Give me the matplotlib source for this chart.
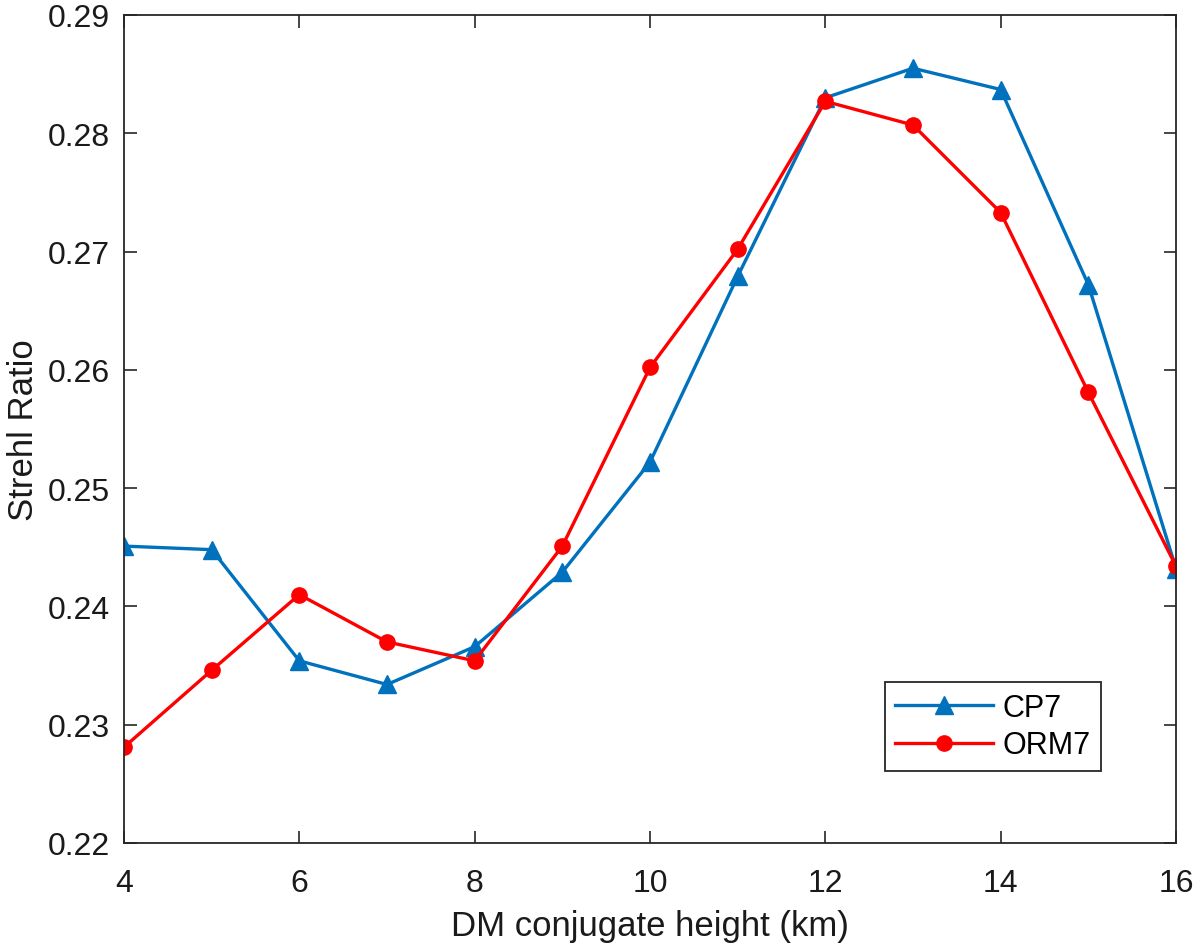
import matplotlib
matplotlib.use('Agg')
import matplotlib.pyplot as plt

plt.rcParams['font.family'] = ['Liberation Sans', 'DejaVu Sans']

heights = [4, 5, 6, 7, 8, 9, 10, 11, 12, 13, 14, 15, 16]
cp7 = [0.2451, 0.2448, 0.2354, 0.2334, 0.2366, 0.2429, 0.2522,
       0.2679, 0.2830, 0.2855, 0.2837, 0.2672, 0.2432]
orm7 = [0.2281, 0.2346, 0.2410, 0.2370, 0.2354, 0.2451, 0.2602,
        0.2702, 0.2827, 0.2807, 0.2733, 0.2581, 0.2434]

x_ticks = [4, 6, 8, 10, 12, 14, 16]
y_ticks = [0.22, 0.23, 0.24, 0.25, 0.26, 0.27, 0.28, 0.29]
y_labels = ['0.22', '0.23', '0.24', '0.25', '0.26', '0.27', '0.28', '0.29']

axis_col = '#262626'
text_col = '#1a1a1a'

fig = plt.figure(figsize=(12, 9.53), dpi=100)
ax = fig.add_axes([124 / 1200, 1 - 844 / 953, 1052 / 1200, 828 / 953])

ax.plot(heights, cp7, color='#0072BD', lw=2.4, marker='^', markersize=13, label='CP7')
ax.plot(heights, orm7, color='#FF0000', lw=2.4, marker='o', markersize=11, label='ORM7')

ax.set_xlim(4, 16)
ax.set_ylim(0.22, 0.29)
ax.set_xticks(x_ticks)
ax.set_yticks(y_ticks)
ax.set_yticklabels(y_labels)
ax.tick_params(direction='in', length=9, width=1.2, colors=axis_col,
               labelcolor=text_col, labelsize=23, top=True, right=True)
ax.tick_params(axis='x', pad=18)
ax.tick_params(axis='y', pad=10)
for s in ax.spines.values():
    s.set_color(axis_col)
    s.set_linewidth(1.3)

ax.set_xlabel('DM conjugate height (km)', fontsize=25, color=text_col, labelpad=8)
ax.set_ylabel('Strehl Ratio', fontsize=25, color=text_col, labelpad=6)

leg = ax.legend(loc='lower left', bbox_to_anchor=(0.723, 0.087), fontsize=22,
                fancybox=False, framealpha=1, edgecolor=axis_col,
                handlelength=3.2, handletextpad=0.3, borderpad=0.35,
                labelspacing=0.25, borderaxespad=0)
leg.get_frame().set_linewidth(1.3)

fig.savefig('out.png', dpi=100)
